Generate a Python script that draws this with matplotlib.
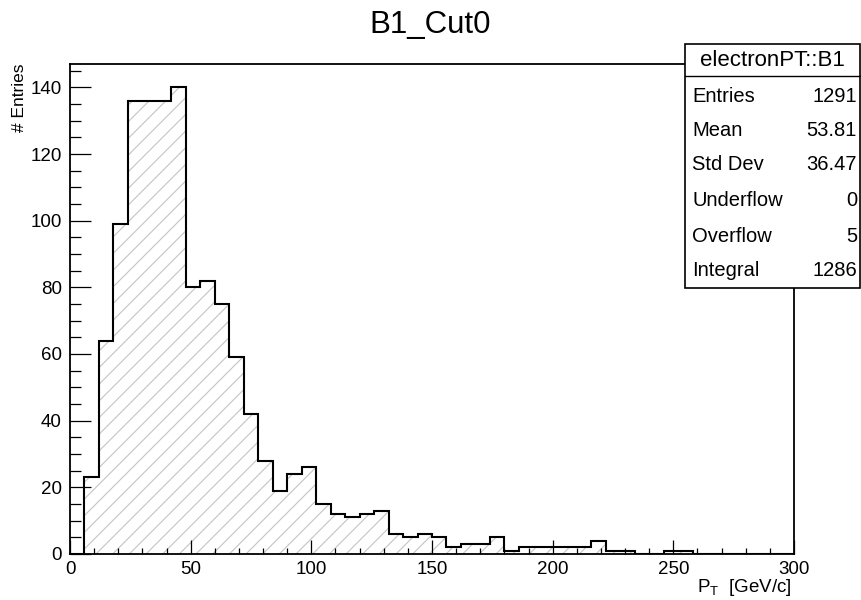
import numpy as np
import matplotlib
matplotlib.use('Agg')
import matplotlib.pyplot as plt
from matplotlib.patches import Rectangle
from matplotlib.lines import Line2D
from matplotlib.ticker import MultipleLocator

plt.rcParams['font.family'] = ['Liberation Sans', 'DejaVu Sans']
plt.rcParams['mathtext.fontset'] = 'custom'
plt.rcParams['mathtext.rm'] = 'Liberation Sans'
plt.rcParams['mathtext.it'] = 'Liberation Sans'
plt.rcParams['hatch.linewidth'] = 0.8

# histogram of electron pT, 50 bins of 6 GeV from 0 to 300
bin_edges = np.arange(0, 301, 6)
counts = [0, 23, 64, 99, 136, 136, 136, 140, 80, 82,
          75, 59, 42, 28, 19, 24, 26, 15, 12, 11,
          12, 13, 6, 5, 6, 5, 2, 3, 3, 5,
          1, 2, 2, 2, 2, 2, 4, 1, 1, 0,
          0, 1, 1, 0, 0, 0, 0, 0, 0, 0]

hist_name = 'electronPT::B1'
stat_names = ['Entries', 'Mean', 'Std Dev', 'Underflow', 'Overflow', 'Integral']
stat_values = ['1291', '53.81', '36.47', '0', '5', '1286']

fig = plt.figure(figsize=(8.61, 6), dpi=100)
ax = fig.add_axes([70/861, 1-554/600, 724/861, 490/600])

ax.stairs(counts, bin_edges, fill=True, facecolor='white', edgecolor='#c4c4c4',
          hatch='//', linewidth=0)
ax.stairs(counts, bin_edges, color='black', linewidth=1.5)

ax.set_xlim(0, 300)
ax.set_ylim(0, max(counts)*1.05)

ax.xaxis.set_major_locator(MultipleLocator(50))
ax.xaxis.set_minor_locator(MultipleLocator(10))
ax.yaxis.set_major_locator(MultipleLocator(20))
ax.yaxis.set_minor_locator(MultipleLocator(5))
ax.tick_params(axis='both', which='both', direction='in', width=0.9, labelsize=13.5)
ax.tick_params(axis='y', which='major', length=15, pad=6)
ax.tick_params(axis='y', which='minor', length=8)
ax.tick_params(axis='x', which='major', length=10, pad=5)
ax.tick_params(axis='x', which='minor', length=4.5)
for s in ax.spines.values():
    s.set_linewidth(1.3)

fig.text(430/861, 1-25/600, 'B1_Cut0', fontsize=22.5, ha='center', va='center')
fig.text(20/861, 1-63/600, '# Entries', fontsize=12.5, rotation=90, ha='center', va='top')
fig.text(792/861, 1-587/600, r'P$_{\mathrm{T}}$  [GeV/c]', fontsize=13.5, ha='right', va='center')

# stats box
bx0, bx1, by0, by1 = 685/861, 860/861, 1-288/600, 1-44/600
fig.patches.append(Rectangle((bx0, by0), bx1-bx0, by1-by0, transform=fig.transFigure,
                             facecolor='white', edgecolor='black', linewidth=1.2, zorder=5))
fig.lines.append(Line2D([bx0, bx1], [1-76/600, 1-76/600], transform=fig.transFigure,
                        color='black', linewidth=1.0, zorder=6))
fig.text((bx0+bx1)/2, 1-60/600, hist_name, fontsize=16, ha='center', va='center', zorder=7)
row_y = [97, 130, 164, 201, 237, 270]
for name, val, yy in zip(stat_names, stat_values, row_y):
    fig.text(692/861, 1-yy/600, name, fontsize=14.5, ha='left', va='center', zorder=7)
    fig.text(857/861, 1-yy/600, val, fontsize=14.5, ha='right', va='center', zorder=7)

fig.savefig('out.png', dpi=100)
